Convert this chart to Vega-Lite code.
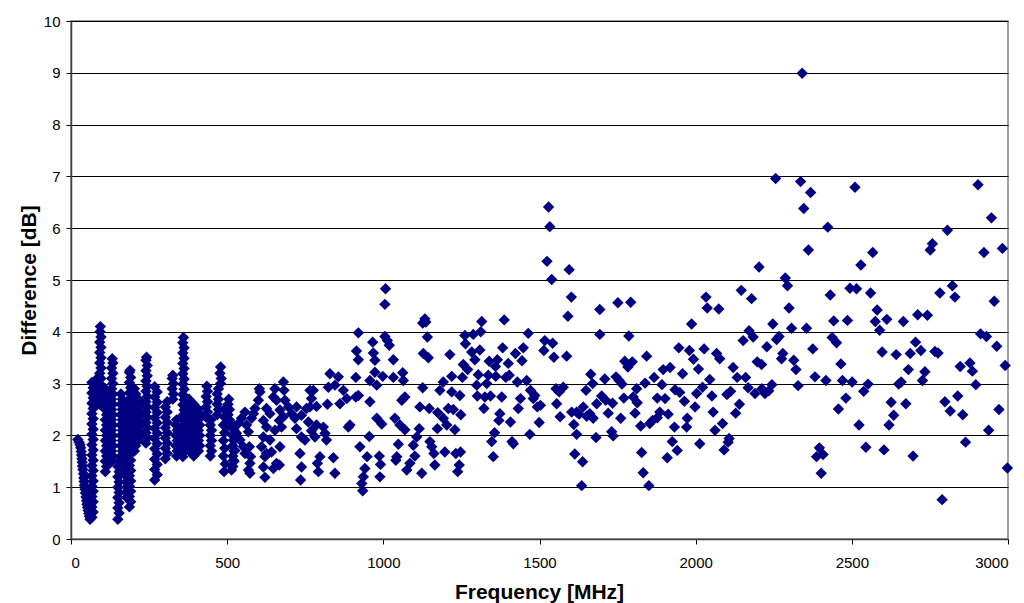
{
  "$schema": "https://vega.github.io/schema/vega-lite/v6.json",
  "width": 937,
  "height": 518,
  "autosize": {"type": "none"},
  "padding": {"left": 71, "top": 21, "right": 16, "bottom": 64},
  "background": "#FFFFFF",
  "config": {
    "view": {"stroke": "#808080", "strokeWidth": 1.5},
    "font": "Liberation Sans"
  },
  "data": {
    "values": [
      {"f":22,"d":1.92},{"f":26,"d":1.87},{"f":29,"d":1.82},{"f":31,"d":1.76},{"f":33,"d":1.69},{"f":34,"d":1.62},{"f":35,"d":1.55},{"f":36,"d":1.48},{"f":37,"d":1.41},{"f":38,"d":1.34},{"f":40,"d":1.26},{"f":41,"d":1.18},{"f":42,"d":1.11},{"f":43,"d":1.04},{"f":45,"d":0.96},{"f":46,"d":0.89},{"f":48,"d":0.81},{"f":50,"d":0.74},{"f":51,"d":0.67},{"f":53,"d":0.61},{"f":55,"d":0.55},{"f":57,"d":0.49},{"f":59,"d":0.44},{"f":61,"d":0.38},
      {"f":67,"d":0.42},{"f":71,"d":0.52},{"f":67,"d":0.62},{"f":71,"d":0.72},{"f":67,"d":0.82},{"f":71,"d":0.92},{"f":67,"d":1.02},{"f":71,"d":1.12},{"f":67,"d":1.22},{"f":71,"d":1.32},{"f":67,"d":1.42},{"f":71,"d":1.52},{"f":67,"d":1.62},{"f":71,"d":1.72},{"f":67,"d":1.82},{"f":71,"d":1.92},{"f":67,"d":2.02},{"f":71,"d":2.12},{"f":67,"d":2.22},{"f":71,"d":2.32},{"f":67,"d":2.42},{"f":71,"d":2.52},{"f":67,"d":2.62},{"f":71,"d":2.72},{"f":67,"d":2.82},{"f":71,"d":2.92},{"f":67,"d":3.02},
      {"f":92,"d":2.6},{"f":96,"d":2.7},{"f":92,"d":2.8},{"f":96,"d":2.9},{"f":92,"d":3.0},{"f":96,"d":3.1},{"f":92,"d":3.2},{"f":96,"d":3.3},{"f":92,"d":3.4},{"f":96,"d":3.5},{"f":92,"d":3.6},{"f":96,"d":3.7},{"f":92,"d":3.8},{"f":96,"d":3.9},{"f":93,"d":4.0},{"f":94,"d":4.1},
      {"f":80,"d":2.65},{"f":84,"d":2.8},{"f":80,"d":2.95},{"f":84,"d":3.1},{"f":88,"d":2.7},{"f":88,"d":2.95},
      {"f":110,"d":1.3},{"f":114,"d":1.4},{"f":110,"d":1.5},{"f":114,"d":1.6},{"f":110,"d":1.7},{"f":114,"d":1.8},{"f":110,"d":1.9},{"f":114,"d":2.0},{"f":110,"d":2.1},{"f":114,"d":2.2},{"f":110,"d":2.3},{"f":114,"d":2.4},{"f":110,"d":2.5},{"f":114,"d":2.6},{"f":110,"d":2.7},{"f":114,"d":2.8},{"f":110,"d":2.9},
      {"f":130,"d":1.5},{"f":134,"d":1.6},{"f":130,"d":1.7},{"f":134,"d":1.8},{"f":130,"d":1.9},{"f":134,"d":2.0},{"f":130,"d":2.1},{"f":134,"d":2.2},{"f":130,"d":2.3},{"f":134,"d":2.4},{"f":130,"d":2.5},{"f":134,"d":2.6},{"f":130,"d":2.7},{"f":134,"d":2.8},{"f":130,"d":2.9},{"f":134,"d":3.0},{"f":130,"d":3.1},{"f":134,"d":3.2},{"f":130,"d":3.3},{"f":134,"d":3.4},{"f":132,"d":3.48},
      {"f":150,"d":0.38},{"f":154,"d":0.5},{"f":150,"d":0.6},{"f":154,"d":0.7},{"f":150,"d":0.8},{"f":154,"d":0.9},{"f":150,"d":1.0},{"f":154,"d":1.1},{"f":150,"d":1.2},{"f":154,"d":1.3},{"f":150,"d":1.4},{"f":154,"d":1.5},
      {"f":160,"d":1.6},{"f":164,"d":1.7},{"f":160,"d":1.8},{"f":164,"d":1.9},{"f":160,"d":2.0},{"f":164,"d":2.1},{"f":160,"d":2.2},{"f":164,"d":2.3},{"f":160,"d":2.4},{"f":164,"d":2.5},{"f":160,"d":2.6},{"f":164,"d":2.7},{"f":160,"d":2.8},
      {"f":170,"d":1.3},{"f":174,"d":1.4},{"f":170,"d":1.5},{"f":174,"d":1.6},{"f":170,"d":1.7},{"f":174,"d":1.8},{"f":170,"d":1.9},{"f":174,"d":2.0},{"f":170,"d":2.1},{"f":174,"d":2.2},{"f":170,"d":2.3},{"f":174,"d":2.4},{"f":170,"d":2.5},{"f":174,"d":2.6},
      {"f":187,"d":0.62},{"f":191,"d":0.72},{"f":187,"d":0.82},{"f":191,"d":0.92},{"f":187,"d":1.02},{"f":191,"d":1.12},{"f":187,"d":1.22},{"f":191,"d":1.32},{"f":187,"d":1.42},{"f":191,"d":1.52},{"f":187,"d":1.62},{"f":191,"d":1.72},{"f":187,"d":1.82},{"f":191,"d":1.92},{"f":187,"d":2.02},{"f":191,"d":2.12},{"f":187,"d":2.22},{"f":191,"d":2.32},{"f":187,"d":2.42},{"f":191,"d":2.52},{"f":187,"d":2.62},{"f":191,"d":2.72},{"f":187,"d":2.82},{"f":191,"d":2.92},{"f":187,"d":3.02},{"f":191,"d":3.12},{"f":187,"d":3.22},{"f":189,"d":3.26},
      {"f":178,"d":0.8},{"f":178,"d":0.9},{"f":178,"d":1.0},{"f":178,"d":1.1},{"f":178,"d":1.2},{"f":178,"d":1.3},
      {"f":203,"d":1.7},{"f":207,"d":1.8},{"f":203,"d":1.9},{"f":207,"d":2.0},{"f":203,"d":2.1},{"f":207,"d":2.2},{"f":203,"d":2.3},{"f":207,"d":2.4},{"f":203,"d":2.5},{"f":207,"d":2.6},{"f":203,"d":2.7},{"f":207,"d":2.8},{"f":203,"d":2.9},
      {"f":216,"d":1.9},{"f":220,"d":2.0},{"f":216,"d":2.1},{"f":220,"d":2.2},{"f":216,"d":2.3},{"f":220,"d":2.4},{"f":216,"d":2.5},{"f":220,"d":2.6},{"f":216,"d":2.7},
      {"f":240,"d":1.85},{"f":244,"d":1.95},{"f":240,"d":2.05},{"f":244,"d":2.15},{"f":240,"d":2.25},{"f":244,"d":2.35},{"f":240,"d":2.45},{"f":244,"d":2.55},{"f":240,"d":2.65},{"f":244,"d":2.75},{"f":240,"d":2.85},{"f":244,"d":2.95},{"f":240,"d":3.05},{"f":244,"d":3.15},{"f":240,"d":3.25},{"f":244,"d":3.35},{"f":240,"d":3.45},{"f":242,"d":3.51},
      {"f":268,"d":1.14},{"f":276,"d":1.24},{"f":268,"d":1.34},{"f":276,"d":1.44},{"f":268,"d":1.54},{"f":276,"d":1.64},{"f":268,"d":1.74},{"f":276,"d":1.84},{"f":268,"d":1.94},{"f":276,"d":2.04},{"f":268,"d":2.14},{"f":276,"d":2.24},{"f":268,"d":2.34},{"f":276,"d":2.44},{"f":268,"d":2.54},{"f":276,"d":2.64},{"f":268,"d":2.74},{"f":276,"d":2.84},{"f":268,"d":2.94},
      {"f":302,"d":1.55},{"f":308,"d":1.65},{"f":302,"d":1.75},{"f":308,"d":1.85},{"f":302,"d":1.95},{"f":308,"d":2.05},{"f":302,"d":2.15},{"f":308,"d":2.25},{"f":302,"d":2.35},{"f":308,"d":2.45},{"f":302,"d":2.55},{"f":308,"d":2.65},
      {"f":326,"d":2.7},{"f":328,"d":2.8},{"f":324,"d":2.9},{"f":328,"d":3.0},{"f":324,"d":3.1},{"f":326,"d":3.16},
      {"f":338,"d":1.6},{"f":340,"d":1.7},{"f":336,"d":1.8},{"f":340,"d":1.9},{"f":336,"d":2.0},{"f":340,"d":2.1},{"f":336,"d":2.2},{"f":338,"d":2.3},
      {"f":358,"d":1.59},{"f":362,"d":1.69},{"f":358,"d":1.79},{"f":362,"d":1.89},{"f":358,"d":1.99},{"f":362,"d":2.09},{"f":358,"d":2.19},{"f":362,"d":2.29},{"f":358,"d":2.39},{"f":362,"d":2.49},{"f":358,"d":2.59},{"f":362,"d":2.69},{"f":358,"d":2.79},{"f":362,"d":2.89},{"f":358,"d":2.99},{"f":362,"d":3.09},{"f":358,"d":3.19},{"f":362,"d":3.29},{"f":358,"d":3.39},{"f":362,"d":3.49},{"f":358,"d":3.59},{"f":362,"d":3.69},{"f":358,"d":3.79},{"f":360,"d":3.89},
      {"f":378,"d":1.7},{"f":382,"d":1.8},{"f":378,"d":1.9},{"f":382,"d":2.0},{"f":378,"d":2.1},{"f":382,"d":2.2},{"f":378,"d":2.3},{"f":382,"d":2.4},{"f":378,"d":2.5},{"f":382,"d":2.6},{"f":378,"d":2.7},
      {"f":393,"d":1.6},{"f":397,"d":1.7},{"f":393,"d":1.8},{"f":397,"d":1.9},{"f":393,"d":2.0},{"f":397,"d":2.1},{"f":393,"d":2.2},{"f":397,"d":2.3},{"f":393,"d":2.4},{"f":397,"d":2.5},{"f":393,"d":2.6},
      {"f":408,"d":1.7},{"f":412,"d":1.8},{"f":408,"d":1.9},{"f":412,"d":2.0},{"f":408,"d":2.1},{"f":412,"d":2.2},{"f":408,"d":2.3},{"f":412,"d":2.4},{"f":408,"d":2.5},
      {"f":433,"d":2.35},{"f":437,"d":2.45},{"f":433,"d":2.55},{"f":437,"d":2.65},{"f":433,"d":2.75},{"f":437,"d":2.85},{"f":435,"d":2.95},
      {"f":446,"d":1.6},{"f":450,"d":1.7},{"f":446,"d":1.8},{"f":450,"d":1.9},{"f":446,"d":2.0},{"f":450,"d":2.1},{"f":446,"d":2.2},{"f":448,"d":2.3},
      {"f":468,"d":2.4},{"f":472,"d":2.5},{"f":468,"d":2.6},{"f":472,"d":2.7},{"f":468,"d":2.8},{"f":472,"d":2.9},
      {"f":479,"d":3.0},{"f":481,"d":3.1},{"f":477,"d":3.2},{"f":479,"d":3.32},
      {"f":490,"d":1.3},{"f":494,"d":1.45},{"f":488,"d":1.6},{"f":492,"d":1.75},{"f":488,"d":1.9},{"f":492,"d":2.05},{"f":488,"d":2.2},{"f":492,"d":2.35},{"f":490,"d":2.5},
      {"f":503,"d":2.2},{"f":507,"d":2.3},{"f":503,"d":2.4},{"f":507,"d":2.5},{"f":503,"d":2.6},{"f":505,"d":2.7},
      {"f":518,"d":1.4},{"f":522,"d":1.5},{"f":518,"d":1.6},{"f":522,"d":1.7},{"f":518,"d":1.8},{"f":522,"d":1.9},{"f":518,"d":2.0},{"f":522,"d":2.1},{"f":520,"d":2.2},
      {"f":1005,"d":4.53},{"f":1126,"d":4.17},{"f":920,"d":3.98},{"f":966,"d":3.80},{"f":1005,"d":3.91},{"f":1019,"d":3.74},{"f":1013,"d":3.83},{"f":914,"d":3.63},{"f":920,"d":3.46},{"f":968,"d":3.59},{"f":973,"d":3.45},{"f":1032,"d":3.46},{"f":1128,"d":3.58},{"f":973,"d":3.22},{"f":912,"d":3.12},{"f":957,"d":3.06},{"f":998,"d":3.14},{"f":1032,"d":3.12},{"f":1062,"d":3.21},{"f":1064,"d":3.06},{"f":979,"d":2.97},{"f":829,"d":3.19},{"f":856,"d":3.13},{"f":824,"d":2.93},{"f":845,"d":2.97},{"f":872,"d":2.87},{"f":883,"d":2.71},{"f":861,"d":2.61},{"f":912,"d":2.74},{"f":920,"d":2.77},{"f":957,"d":2.65},{"f":1069,"d":2.74},{"f":1059,"d":2.68},{"f":821,"d":2.60},{"f":765,"d":2.87},{"f":770,"d":2.71},{"f":776,"d":2.87},{"f":754,"d":2.52},{"f":786,"d":2.56},{"f":979,"d":2.33},{"f":995,"d":2.22},{"f":1037,"d":2.33},{"f":1053,"d":2.20},{"f":1069,"d":2.11},{"f":955,"d":1.98},{"f":925,"d":1.78},{"f":948,"d":1.59},{"f":987,"d":1.60},{"f":991,"d":1.44},{"f":989,"d":1.20},{"f":941,"d":1.36},{"f":936,"d":1.20},{"f":934,"d":0.93},{"f":931,"d":1.07},{"f":1048,"d":1.83},{"f":1043,"d":1.59},{"f":1040,"d":1.52},{"f":1075,"d":1.33},{"f":1085,"d":1.46},{"f":1101,"d":1.60},{"f":1096,"d":1.81},{"f":1107,"d":1.97},{"f":1115,"d":2.13},{"f":1123,"d":1.27},{"f":840,"d":1.57},{"f":845,"d":1.27},{"f":888,"d":2.16},{"f":893,"d":2.20},{"f":813,"d":2.04},{"f":818,"d":1.91},{"f":797,"d":1.59},{"f":792,"d":1.30},{"f":789,"d":1.46},{"f":808,"d":2.16},{"f":733,"d":1.65},{"f":738,"d":1.39},{"f":735,"d":1.14},{"f":738,"d":1.97},{"f":749,"d":1.91},{"f":722,"d":2.13},{"f":760,"d":2.26},{"f":786,"d":2.20},{"f":781,"d":1.97},{"f":770,"d":2.09},{"f":669,"d":1.78},{"f":658,"d":1.46},{"f":648,"d":1.36},{"f":621,"d":1.19},{"f":616,"d":1.39},{"f":621,"d":1.59},{"f":626,"d":1.65},{"f":642,"d":1.68},{"f":667,"d":1.43},{"f":674,"d":2.16},{"f":667,"d":2.29},{"f":610,"d":1.78},{"f":637,"d":1.91},{"f":616,"d":1.97},{"f":653,"d":2.10},{"f":571,"d":1.78},{"f":573,"d":1.46},{"f":568,"d":1.33},{"f":575,"d":1.59},{"f":541,"d":1.91},{"f":552,"d":1.78},{"f":520,"d":1.52},{"f":514,"d":1.33},{"f":525,"d":1.71},{"f":530,"d":2.04},{"f":520,"d":1.91},{"f":557,"d":2.45},{"f":546,"d":2.33},{"f":562,"d":2.20},{"f":536,"d":2.23},{"f":568,"d":2.07},{"f":578,"d":2.33},{"f":584,"d":2.42},{"f":589,"d":2.52},{"f":600,"d":2.68},{"f":605,"d":2.84},{"f":603,"d":2.90},{"f":626,"d":2.52},{"f":616,"d":2.29},{"f":626,"d":2.16},{"f":648,"d":2.74},{"f":653,"d":2.90},{"f":680,"d":3.03},{"f":682,"d":2.87},{"f":658,"d":2.68},{"f":685,"d":2.68},{"f":696,"d":2.55},{"f":706,"d":2.42},{"f":717,"d":2.33},{"f":722,"d":2.55},{"f":669,"d":2.49},{"f":680,"d":2.36},{"f":738,"d":2.39},{"f":765,"d":2.55},{"f":637,"d":2.42},{"f":557,"d":1.65},{"f":573,"d":1.27},
      {"f":1529,"d":6.41},{"f":1533,"d":6.03},{"f":1524,"d":5.36},{"f":1007,"d":4.83},
      {"f":1539,"d":5.01},{"f":1595,"d":5.20},{"f":1602,"d":4.67},{"f":1591,"d":4.30},{"f":1133,"d":4.25},{"f":1136,"d":4.19},{"f":1141,"d":3.90},{"f":1315,"d":4.20},{"f":1312,"d":4.00},{"f":1288,"d":3.95},{"f":1261,"d":3.93},{"f":1387,"d":4.23},{"f":1464,"d":3.97},{"f":1517,"d":3.83},{"f":1542,"d":3.78},{"f":1514,"d":3.64},{"f":1546,"d":3.51},{"f":1587,"d":3.53},{"f":1144,"d":3.50},{"f":1213,"d":3.56},{"f":1263,"d":3.77},{"f":1283,"d":3.61},{"f":1309,"d":3.65},{"f":1293,"d":3.46},{"f":1382,"d":3.69},{"f":1423,"d":3.58},{"f":1448,"d":3.69},{"f":1444,"d":3.44},{"f":1339,"d":3.43},{"f":1365,"d":3.46},{"f":1359,"d":3.33},{"f":1400,"d":3.39},{"f":1256,"d":3.37},{"f":1270,"d":3.27},{"f":1219,"d":3.14},{"f":1253,"d":3.12},{"f":1304,"d":3.17},{"f":1336,"d":3.16},{"f":1360,"d":3.14},{"f":1392,"d":3.12},{"f":1403,"d":3.16},{"f":1429,"d":3.03},{"f":1459,"d":3.06},{"f":1192,"d":3.03},{"f":1181,"d":2.87},{"f":1126,"d":2.92},{"f":1219,"d":2.84},{"f":1299,"d":2.97},{"f":1331,"d":3.00},{"f":1301,"d":2.76},{"f":1325,"d":2.74},{"f":1343,"d":2.76},{"f":1379,"d":2.74},{"f":1322,"d":2.52},{"f":1439,"d":2.71},{"f":1471,"d":2.87},{"f":1485,"d":2.77},{"f":1480,"d":2.71},{"f":1493,"d":2.55},{"f":1503,"d":2.58},{"f":1432,"d":2.52},{"f":1553,"d":2.90},{"f":1576,"d":2.93},{"f":1563,"d":2.84},{"f":1555,"d":2.61},{"f":1566,"d":2.36},{"f":1147,"d":2.52},{"f":1117,"d":2.55},{"f":1174,"d":2.44},{"f":1192,"d":2.33},{"f":1208,"d":2.52},{"f":1224,"d":2.50},{"f":1203,"d":2.20},{"f":1229,"d":2.11},{"f":1248,"d":2.40},{"f":1173,"d":2.13},{"f":1149,"d":1.88},{"f":1155,"d":1.78},{"f":1162,"d":1.65},{"f":1165,"d":1.43},{"f":1197,"d":1.68},{"f":1232,"d":1.65},{"f":1247,"d":1.68},{"f":1243,"d":1.43},{"f":1238,"d":1.30},{"f":1373,"d":2.42},{"f":1370,"d":2.29},{"f":1356,"d":2.05},{"f":1347,"d":1.88},{"f":1352,"d":1.59},{"f":1407,"d":2.26},{"f":1412,"d":1.88},{"f":1416,"d":1.84},{"f":1469,"d":2.02},{"f":1499,"d":2.25},{"f":1603,"d":2.45},{"f":1619,"d":2.45},{"f":1610,"d":2.21},{"f":1627,"d":2.41},{"f":1640,"d":2.55},{"f":1649,"d":2.87},{"f":1664,"d":3.18},{"f":1670,"d":3.00},{"f":1619,"d":2.02},{"f":1613,"d":1.64},{"f":1638,"d":1.49},{"f":1635,"d":1.03},{"f":1683,"d":2.61},{"f":1681,"d":1.96},{"f":1651,"d":2.37},{"f":1661,"d":2.42},{"f":1672,"d":2.33},{"f":1245,"d":2.77},
      {"f":2203,"d":5.25},{"f":2287,"d":5.04},{"f":2294,"d":4.89},{"f":2146,"d":4.80},{"f":2179,"d":4.64},{"f":1693,"d":4.43},{"f":1751,"d":4.56},{"f":1792,"d":4.57},{"f":2033,"d":4.67},{"f":2037,"d":4.46},{"f":2074,"d":4.44},{"f":1987,"d":4.15},{"f":1693,"d":3.95},{"f":1786,"d":3.92},{"f":2247,"d":4.15},{"f":2171,"d":4.02},{"f":2184,"d":3.90},{"f":2152,"d":3.83},{"f":2259,"d":3.85},{"f":2267,"d":3.91},{"f":2228,"d":3.71},{"f":1946,"d":3.69},{"f":1980,"d":3.64},{"f":2027,"d":3.67},{"f":1993,"d":3.47},{"f":1843,"d":3.53},{"f":2067,"d":3.58},{"f":2077,"d":3.48},{"f":2279,"d":3.58},{"f":2275,"d":3.48},{"f":1773,"d":3.43},{"f":1797,"d":3.42},{"f":1783,"d":3.32},{"f":2197,"d":3.42},{"f":2211,"d":3.37},{"f":1896,"d":3.27},{"f":1918,"d":3.31},{"f":2009,"d":3.28},{"f":2120,"d":3.31},{"f":1958,"d":3.19},{"f":1709,"d":3.09},{"f":1745,"d":3.13},{"f":1755,"d":3.06},{"f":1764,"d":2.99},{"f":1838,"d":3.01},{"f":1867,"d":3.12},{"f":1892,"d":2.98},{"f":1811,"d":2.90},{"f":1934,"d":2.88},{"f":1949,"d":2.83},{"f":2022,"d":2.93},{"f":2003,"d":2.81},{"f":2045,"d":3.08},{"f":2052,"d":2.76},{"f":2133,"d":3.12},{"f":2160,"d":3.12},{"f":2168,"d":2.92},{"f":2190,"d":2.81},{"f":2212,"d":2.90},{"f":2222,"d":2.81},{"f":2244,"d":2.98},{"f":2234,"d":2.86},{"f":2100,"d":2.79},{"f":2112,"d":2.85},{"f":1699,"d":2.76},{"f":1712,"d":2.68},{"f":1734,"d":2.62},{"f":1720,"d":2.43},{"f":1770,"d":2.72},{"f":1800,"d":2.74},{"f":1813,"d":2.63},{"f":1877,"d":2.72},{"f":1902,"d":2.71},{"f":1964,"d":2.66},{"f":1998,"d":2.55},{"f":1806,"d":2.43},{"f":1760,"d":2.33},{"f":1853,"d":2.23},{"f":1862,"d":2.29},{"f":1877,"d":2.34},{"f":1885,"d":2.45},{"f":1912,"d":2.41},{"f":1824,"d":2.18},{"f":1932,"d":2.16},{"f":1973,"d":2.33},{"f":1971,"d":2.16},{"f":2056,"d":2.45},{"f":2086,"d":2.23},{"f":2062,"d":2.10},{"f":2128,"d":2.43},{"f":2140,"d":2.60},{"f":1731,"d":2.07},{"f":1736,"d":1.99},{"f":1925,"d":1.88},{"f":2013,"d":1.84},{"f":2107,"d":1.94},{"f":2104,"d":1.87},{"f":1941,"d":1.71},{"f":1909,"d":1.57},{"f":2091,"d":1.72},{"f":1827,"d":1.67},{"f":1832,"d":1.28},{"f":1850,"d":1.03},
      {"f":2336,"d":6.90},{"f":2368,"d":6.69},{"f":2346,"d":6.38},{"f":2510,"d":6.79},{"f":2904,"d":6.84},{"f":2947,"d":6.20},{"f":2423,"d":6.02},{"f":2806,"d":5.96},{"f":2758,"d":5.70},{"f":2751,"d":5.58},{"f":2361,"d":5.58},{"f":2567,"d":5.53},{"f":2529,"d":5.29},{"f":2923,"d":5.53},{"f":2982,"d":5.61},{"f":2494,"d":4.84},{"f":2515,"d":4.83},{"f":2431,"d":4.71},{"f":2560,"d":4.75},{"f":2822,"d":4.89},{"f":2782,"d":4.75},{"f":2830,"d":4.67},{"f":2956,"d":4.59},{"f":2299,"d":4.46},{"f":2581,"d":4.42},{"f":2442,"d":4.21},{"f":2486,"d":4.22},{"f":2575,"d":4.20},{"f":2612,"d":4.24},{"f":2665,"d":4.20},{"f":2711,"d":4.33},{"f":2742,"d":4.32},{"f":2307,"d":4.07},{"f":2355,"d":4.07},{"f":2589,"d":4.03},{"f":2437,"d":3.89},{"f":2451,"d":3.79},{"f":2912,"d":3.96},{"f":2931,"d":3.91},{"f":2704,"d":3.80},{"f":2375,"d":3.67},{"f":2964,"d":3.72},{"f":2597,"d":3.61},{"f":2642,"d":3.56},{"f":2687,"d":3.58},{"f":2721,"d":3.64},{"f":2766,"d":3.62},{"f":2776,"d":3.59},{"f":2314,"d":3.45},{"f":2321,"d":3.27},{"f":2465,"d":3.38},{"f":2681,"d":3.27},{"f":2734,"d":3.23},{"f":2847,"d":3.33},{"f":2878,"d":3.40},{"f":2886,"d":3.24},{"f":2991,"d":3.35},{"f":2328,"d":2.96},{"f":2382,"d":3.13},{"f":2417,"d":3.06},{"f":2470,"d":3.06},{"f":2501,"d":3.03},{"f":2552,"d":2.99},{"f":2538,"d":2.85},{"f":2650,"d":2.99},{"f":2658,"d":3.03},{"f":2726,"d":3.06},{"f":2897,"d":2.98},{"f":2481,"d":2.72},{"f":2457,"d":2.51},{"f":2626,"d":2.64},{"f":2634,"d":2.39},{"f":2673,"d":2.61},{"f":2798,"d":2.65},{"f":2815,"d":2.47},{"f":2839,"d":2.76},{"f":2855,"d":2.40},{"f":2971,"d":2.50},{"f":2523,"d":2.20},{"f":2619,"d":2.20},{"f":2938,"d":2.10},{"f":2864,"d":1.87},{"f":2396,"d":1.76},{"f":2387,"d":1.59},{"f":2408,"d":1.63},{"f":2402,"d":1.27},{"f":2545,"d":1.77},{"f":2603,"d":1.72},{"f":2696,"d":1.60},{"f":2998,"d":1.37},{"f":2789,"d":0.76},{"f":2341,"d":8.99},{"f":2256,"d":6.96}
    ]
  },
  "mark": {"type": "point", "shape": "diamond", "filled": true, "size": 130, "color": "#000080", "opacity": 1},
  "encoding": {
    "x": {
      "field": "f",
      "type": "quantitative",
      "scale": {"domain": [0, 3000], "nice": false, "zero": true},
      "axis": {
        "values": [0, 500, 1000, 1500, 2000, 2500, 3000],
        "format": "d",
        "grid": false,
        "title": "Frequency [MHz]",
        "titleFont": "Liberation Sans",
        "titleFontSize": 21,
        "titleFontWeight": "bold",
        "titleColor": "#000000",
        "titleBaseline": "alphabetic",
        "titleX": 468,
        "titleY": 59,
        "titleAnchor": "middle",
        "labelFont": "Liberation Sans",
        "labelFontSize": 15,
        "labelColor": "#000000",
        "labelBaseline": "alphabetic",
        "labelPadding": 23,
        "tickSize": 5,
        "tickColor": "#000000",
        "domainColor": "#404040",
        "domainWidth": 1.5
      }
    },
    "y": {
      "field": "d",
      "type": "quantitative",
      "scale": {"domain": [0, 10], "nice": false},
      "axis": {
        "values": [0, 1, 2, 3, 4, 5, 6, 7, 8, 9, 10],
        "format": "d",
        "grid": true,
        "gridColor": "#000000",
        "gridWidth": 1,
        "gridOpacity": 1,
        "title": "Difference [dB]",
        "titleFont": "Liberation Sans",
        "titleFontSize": 21,
        "titleFontWeight": "bold",
        "titleColor": "#000000",
        "titleAngle": 270,
        "titleBaseline": "alphabetic",
        "titleAlign": "center",
        "titleX": -36,
        "titleY": 259,
        "labelFont": "Liberation Sans",
        "labelFontSize": 15,
        "labelColor": "#000000",
        "labelPadding": 6,
        "tickSize": 5,
        "tickColor": "#000000",
        "domainColor": "#404040",
        "domainWidth": 1.5
      }
    }
  }
}
